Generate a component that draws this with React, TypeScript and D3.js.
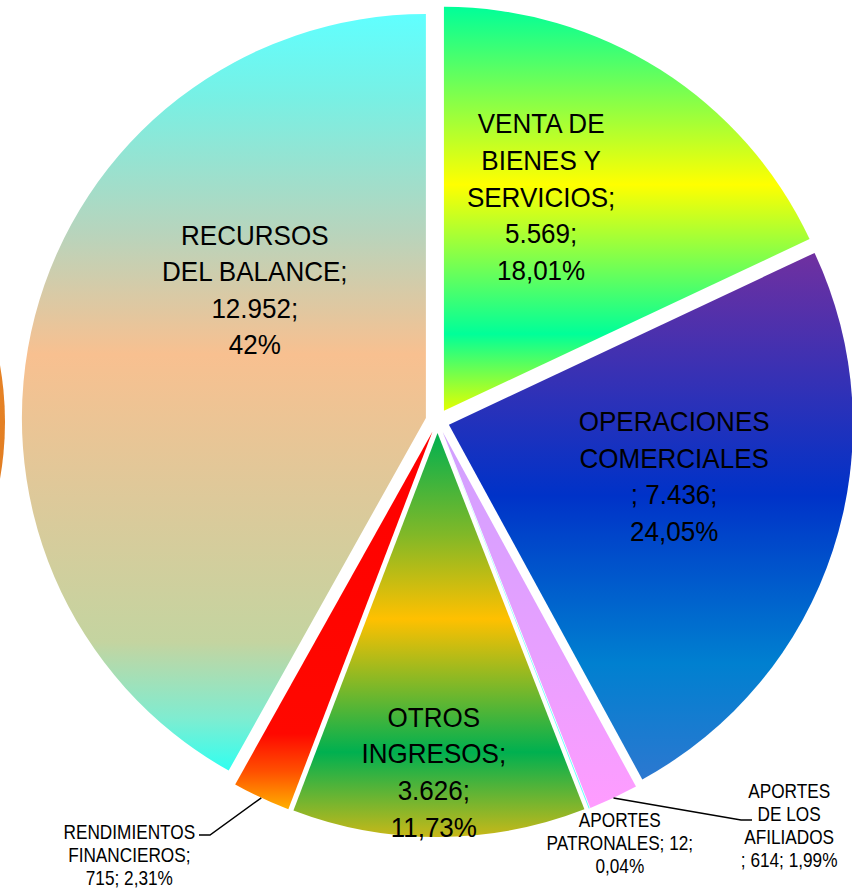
import { useMemo } from 'react';
import * as d3 from 'd3';

// categories and values (millones)
const CATEGORIES = [
  "VENTA DE BIENES Y SERVICIOS",
  "OPERACIONES COMERCIALES",
  "APORTES DE LOS AFILIADOS",
  "APORTES PATRONALES",
  "OTROS INGRESOS",
  "RENDIMIENTOS FINANCIEROS",
  "RECURSOS DEL BALANCE",
];
const VALUES = [5569, 7436, 614, 12, 3626, 715, 12952];
const LABELS = [
  ["VENTA DE", "BIENES Y", "SERVICIOS;", "5.569;", "18,01%"],
  ["OPERACIONES", "COMERCIALES", "; 7.436;", "24,05%"],
  ["APORTES", "DE LOS", "AFILIADOS", "; 614; 1,99%"],
  ["APORTES", "PATRONALES; 12;", "0,04%"],
  ["OTROS", "INGRESOS;", "3.626;", "11,73%"],
  ["RENDIMIENTOS", "FINANCIEROS;", "715; 2,31%"],
  ["RECURSOS", "DEL BALANCE;", "12.952;", "42%"],
];

// vertical gradient stops per slice
const GRADIENTS: [number, string][][] = [
  [[0, "#00ff99"], [0.44, "#ffff00"], [0.81, "#00ff99"], [1, "#e4ff00"]],
  [[0, "#7030a0"], [0.46, "#0032c8"], [0.78, "#0080d0"], [1, "#2c78d0"]],
  [[0, "#d0a0ff"], [0.6, "#e8a0ff"], [1, "#ff9cff"]],
  [[0, "#60ffff"], [1, "#60ffff"]],
  [[0, "#00b050"], [0.25, "#80b828"], [0.46, "#ffc000"], [0.79, "#00b050"], [1, "#c8b818"]],
  [[0, "#ff0000"], [0.8, "#ff0800"], [0.9, "#ff5000"], [1, "#ffb000"]],
  [[0, "#60ffff"], [0.11, "#78f0e4"], [0.29, "#b8d4bc"], [0.45, "#f8c090"], [0.64, "#ddc99a"], [0.83, "#c4d4a0"], [0.93, "#80ecd0"], [1, "#30fff0"]],
];

// label placement: [angle in degrees, distance from centre]
const LABEL_POS: [number, number][] = [
  [24.8, 247], [103.1, 243], [139, 536], [156.6, 459], [180.6, 351], [215.4, 532], [305.7, 225],
];
const LABEL_BIG = [true, true, false, false, true, false, true];
const LEADERS: ([number, number] | null)[] = [
  null, null, [741, 820], null, null, [210, 835], null,
];

const W = 852, H = 889;
const CX = 437.5, CY = 421, R = 404, EXPLODE = 12;

export default function App() {
  const slices = useMemo(() => d3.pie<number>().sort(null).value(d => d)(VALUES), []);
  const arc = d3.arc<d3.PieArcDatum<number>>().innerRadius(0).outerRadius(R);
  const font = "'Liberation Sans', Arial, sans-serif";
  const dir = (a: number) => [Math.sin(a), -Math.cos(a)];

  return (
    <svg width={W} height={H} style={{ position: "absolute", left: 0, top: 0 }} fontFamily={font}>
      <defs>
        {GRADIENTS.map((g, i) => (
          <linearGradient key={i} id={`g${i}`} x1="0" y1="0" x2="0" y2="1">
            {g.map(([o, c], j) => <stop key={j} offset={o} stopColor={c} />)}
          </linearGradient>
        ))}
        <linearGradient id="gl" x1="0" y1="0" x2="0" y2="1">
          <stop offset="0" stopColor="#f09030" />
          <stop offset="1" stopColor="#d87018" />
        </linearGradient>
      </defs>
      <rect width={W} height={H} fill="#fff" />
      {/* edge of neighbouring chart */}
      <circle cx={-322} cy={422} r={327} fill="url(#gl)" />
      {slices.map((s, i) => {
        const mid = (s.startAngle + s.endAngle) / 2;
        const [dx, dy] = dir(mid);
        return (
          <path key={CATEGORIES[i]} d={arc(s) || ""}
            transform={`translate(${CX + dx * EXPLODE},${CY + dy * EXPLODE})`}
            fill={`url(#g${i})`} />
        );
      })}
      {slices.map((s, i) => {
        const lead = LEADERS[i];
        if (!lead) return null;
        const mid = (s.startAngle + s.endAngle) / 2;
        const [dx, dy] = dir(mid);
        const sx = CX + dx * (R + EXPLODE), sy = CY + dy * (R + EXPLODE);
        const hx = lead[0] + (dx < 0 ? -11 : 11);
        return (
          <polyline key={i} points={`${sx},${sy} ${lead[0]},${lead[1]} ${hx},${lead[1]}`}
            fill="none" stroke="#000" strokeWidth={1.5} />
        );
      })}
      {LABELS.map((lines, i) => {
        const [ang, dist] = LABEL_POS[i];
        const [dx, dy] = dir((ang * Math.PI) / 180);
        const x = CX + dx * dist, y = CY + dy * dist;
        const big = LABEL_BIG[i];
        const fs = big ? 28 : 21;
        const sx = big ? 0.93 : 0.82;
        const lh = big ? 36.6 : 23;
        const y0 = y - ((lines.length - 1) * lh) / 2;
        return (
          <text key={i} transform={`translate(${x},0) scale(${sx},1)`} textAnchor="middle" fontSize={fs} fill="#000">
            {lines.map((l, j) => (
              <tspan key={j} x={0} y={y0 + j * lh} dy="0.35em">{l}</tspan>
            ))}
          </text>
        );
      })}
    </svg>
  );
}
